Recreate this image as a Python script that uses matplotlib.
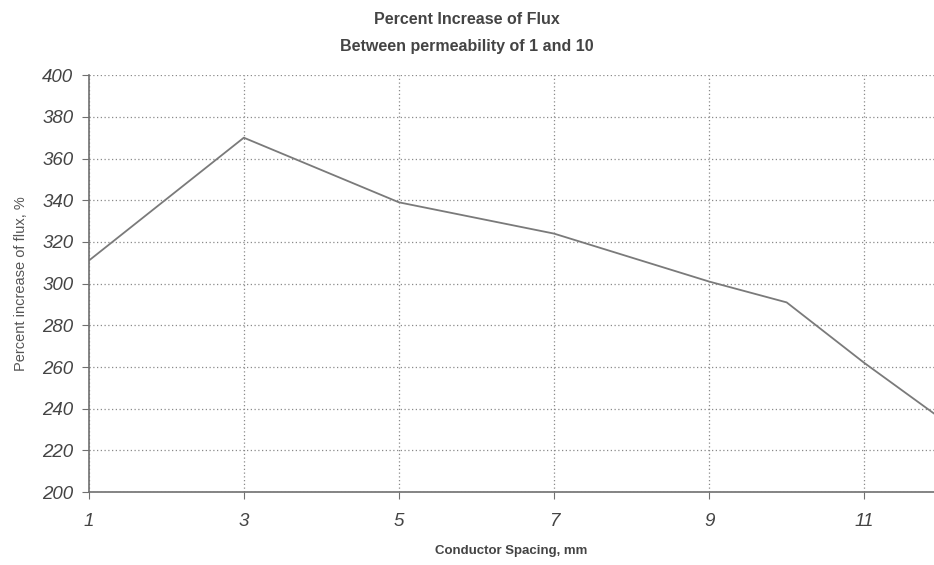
import numpy as np
import matplotlib.pyplot as plt

plt.rcParams['font.family'] = ['Liberation Sans', 'DejaVu Sans']

# conductor spacing (mm) vs percent increase of flux
spacing = [1, 3, 5, 7, 9, 10, 11, 12]
increase = [311, 370, 339, 324, 301, 291, 262, 235]

xticks = [1, 3, 5, 7, 9, 11]
yticks = [200, 220, 240, 260, 280, 300, 320, 340, 360, 380, 400]

fig = plt.figure(figsize=(9.34, 5.65), dpi=100)
ax = fig.add_axes([0.095, 0.129, 0.905, 0.738])

ax.plot(spacing, increase, color='#7a7a7a', lw=1.3, clip_on=True)

ax.set_xlim(1, 11.9)
ax.set_ylim(200, 400)
ax.set_xticks(xticks)
ax.set_yticks(yticks)
ax.grid(True, color='#8a8a8a', linestyle=(0, (1, 2)), lw=0.9)

for s in ['top', 'right']:
    ax.spines[s].set_visible(False)
for s in ['left', 'bottom']:
    ax.spines[s].set_color('#707070')
    ax.spines[s].set_linewidth(1.2)

ax.tick_params(axis='both', direction='out', length=5, color='#707070',
               labelsize=13.5, labelcolor='#444444')
for lab in ax.get_xticklabels() + ax.get_yticklabels():
    lab.set_fontstyle('italic')
ax.tick_params(axis='x', pad=10)
ax.tick_params(axis='y', pad=6)

ax.set_xlabel('Conductor Spacing, mm', fontsize=9.5, fontweight='bold',
              color='#444444', labelpad=11)
ax.set_ylabel('Percent increase of flux, %', fontsize=10.5, color='#555555',
              labelpad=10)

fig.text(0.5, 0.965, 'Percent Increase of Flux', ha='center', va='center',
         fontsize=11.5, fontweight='bold', color='#444444')
fig.text(0.5, 0.918, 'Between permeability of 1 and 10', ha='center',
         va='center', fontsize=11.5, fontweight='bold', color='#444444')

fig.savefig('out.png', dpi=100)
